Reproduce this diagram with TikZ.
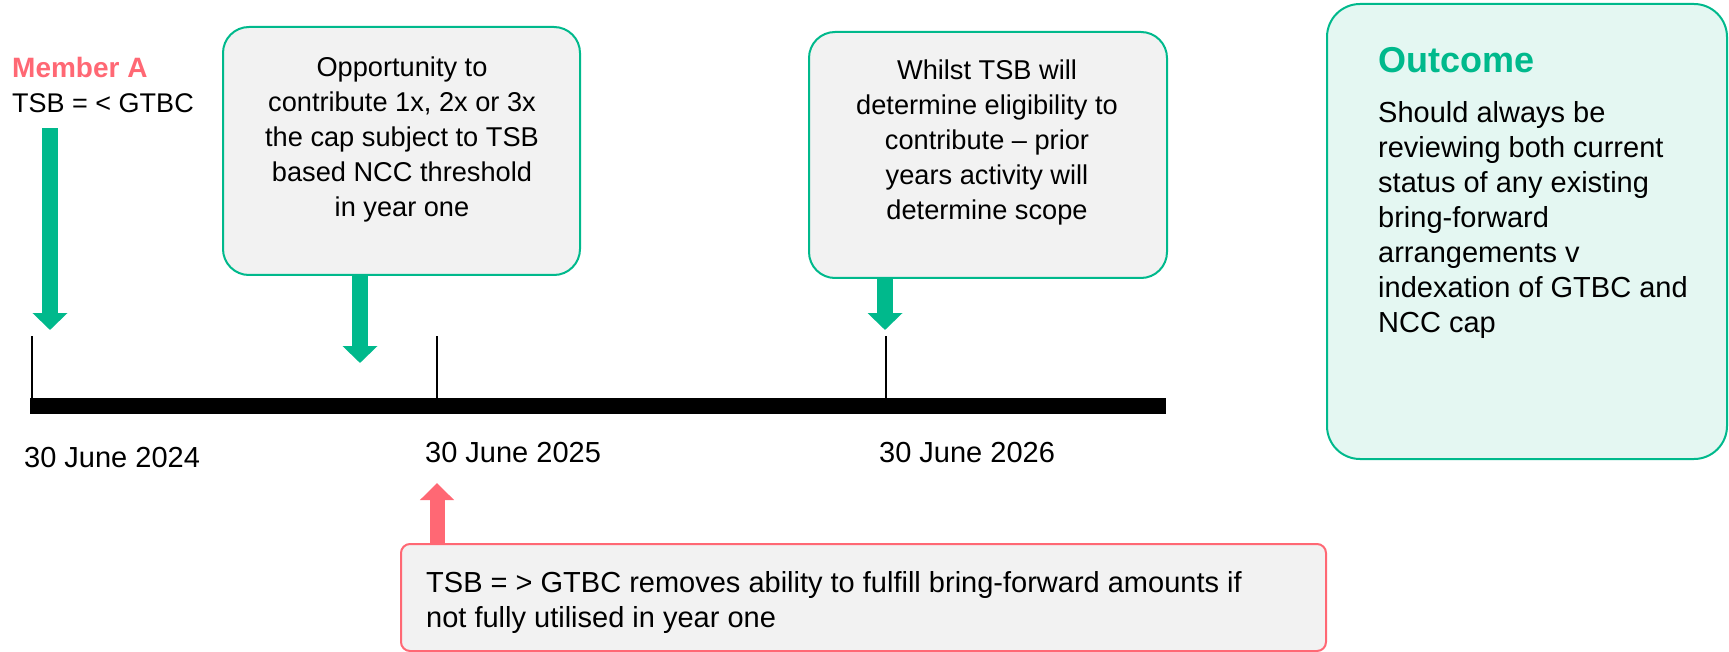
\documentclass[tikz,border=0pt]{standalone}
\usepackage{fontspec}
\setmainfont{Liberation Sans}
\usetikzlibrary{arrows.meta}

\definecolor{tealgreen}{RGB}{0,185,140}
\definecolor{softred}{RGB}{255,104,116}
\definecolor{boxgray}{RGB}{242,242,242}
\definecolor{mint}{RGB}{228,247,242}

\tikzset{
  txt/.style={font=\fontsize{29}{35}\selectfont,inner sep=0pt},
  boxtxt/.style={font=\fontsize{27.2}{35}\selectfont,inner sep=0pt},
  notebox/.style={draw=tealgreen,fill=boxgray,line width=2pt,rounded corners=26pt},
  outbox/.style={draw=tealgreen,fill=mint,line width=2pt,rounded corners=33pt},
  warnbox/.style={draw=softred,fill=boxgray,line width=2pt,rounded corners=9pt},
  downarrow/.style={draw=tealgreen,line width=16pt,-{Triangle[width=34pt,length=17pt]}},
  uparrow/.style={draw=softred,line width=15pt,-{Triangle[width=33pt,length=17pt]}},
  tick/.style={line width=2pt},
}

\begin{document}
\begin{tikzpicture}[x=1pt,y=-1pt]
\useasboundingbox (0,0) rectangle (1729,652);

% member label
\node[txt,anchor=base west,text=softred,font=\fontsize{28}{35}\selectfont\bfseries] (member) at (12,78) {Member A};
\node[txt,anchor=base west,font=\fontsize{27}{35}\selectfont] (tsbless) at (12,113) {TSB = < GTBC};

% notes above the line
\node[notebox,minimum width=357pt,minimum height=248pt] (opp) at (401.5,151) {};
\node[boxtxt,align=center,anchor=north] (opptext) at (402,57) {Opportunity to\\contribute 1x, 2x or 3x\\the cap subject to TSB\\based NCC threshold\\in year one};

\node[notebox,minimum width=358pt,minimum height=246pt] (whilst) at (988,155) {};
\node[boxtxt,align=center,anchor=north] (whilsttext) at (987,60) {Whilst TSB will\\determine eligibility to\\contribute -- prior\\years activity will\\determine scope};

% outcome panel
\node[outbox,minimum width=400pt,minimum height=455pt] (outcome) at (1527,231.5) {};
\node[txt,anchor=base west,text=tealgreen,font=\fontsize{36}{40}\selectfont\bfseries] (outhead) at (1378,73) {Outcome};
\node[txt,align=left,anchor=north west] (outtext) at (1378,101) {Should always be\\reviewing both current\\status of any existing\\bring-forward\\arrangements v\\indexation of GTBC and\\NCC cap};

% timeline
\coordinate (bar0) at (30,406);
\coordinate (bar1) at (1166,406);
\coordinate (t24) at (32,406);
\coordinate (t25) at (437,406);
\coordinate (t26) at (886,406);
\draw[line width=16pt] (bar0) -- (bar1);
\foreach \t in {t24,t25,t26}
  \draw[tick] (\t) -- ++(0,-70);

\node[txt,anchor=base west] (d24) at (24,467) {30 June 2024};
\node[txt,anchor=base west] (d25) at (425,462) {30 June 2025};
\node[txt,anchor=base west] (d26) at (879,462) {30 June 2026};

% warning below the line
\node[warnbox,minimum width=925pt,minimum height=107pt] (warn) at (863.5,597.5) {};
\node[txt,align=left,anchor=north west] (warntext) at (426,571) {TSB = > GTBC removes ability to fulfill bring-forward amounts if\\not fully utilised in year one};

% arrows
\coordinate (a24) at (50,330);
\coordinate (aopp) at (360,363);
\coordinate (awhilst) at (885,330);
\coordinate (a25) at (437,483);
\draw[downarrow] ([yshift=-15pt]tsbless.south -| a24) -- (a24);
\draw[downarrow] (opp.south -| aopp) -- (aopp);
\draw[downarrow] (whilst.south -| awhilst) -- (awhilst);
\draw[uparrow] (warn.north -| a25) -- (a25);
\end{tikzpicture}
\end{document}
